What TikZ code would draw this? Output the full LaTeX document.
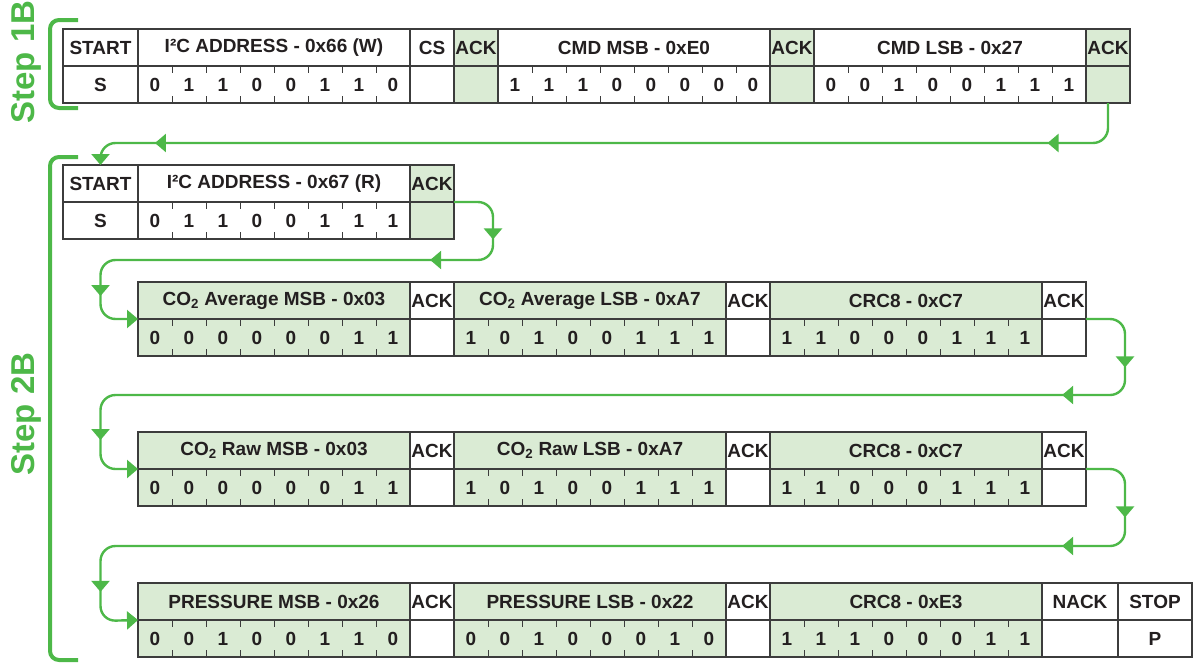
\documentclass[tikz,border=0pt]{standalone}
\usepackage{fontspec}
\setmainfont{Liberation Sans}
\usetikzlibrary{arrows.meta,positioning,decorations.markings}

\definecolor{flowgreen}{RGB}{77,184,72}
\definecolor{cellgreen}{RGB}{218,235,212}
\definecolor{cellline}{RGB}{60,60,60}
\definecolor{inktext}{RGB}{35,31,32}

% eight bit digits with the small ticks between them
\newcommand\bitcells[2]{%
  \foreach \v [count=\i] in {#2}
    \node[digit] (#1-\i) at ([xshift=\i*34pt-17pt]#1.west) {\v};
  \foreach \i in {1,...,7}{
    \draw[tick] ([xshift=\i*34pt]#1.north west) -- ++(0,7);
    \draw[tick] ([xshift=\i*34pt]#1.south west) -- ++(0,-7);}}

\begin{document}
\begin{tikzpicture}[x=1pt,y=-1pt,
  cell/.style={draw=cellline,line width=1.3pt,minimum height=37pt,inner sep=0pt,
               outer sep=0pt,text=inktext,font=\fontsize{19}{21}\selectfont\bfseries},
  startc/.style={cell,minimum width=75pt},
  bytec/.style={cell,minimum width=272pt,fill=#1}, bytec/.default=white,
  ackc/.style={cell,minimum width=44pt,fill=#1}, ackc/.default=white,
  digit/.style={inner sep=0pt,text=inktext,font=\fontsize{19}{21}\selectfont\bfseries},
  tick/.style={draw=cellline,line width=1pt},
  flow/.style={flowgreen,line width=2.4pt,rounded corners=15pt,
               -{Triangle[length=11pt,width=18pt]}},
  mids/.style={postaction={decorate,decoration={markings,
               mark=at position #1 with {\arrow{Triangle[length=11pt,width=18pt]}}}}},
  bracket/.style={draw=flowgreen,line width=4pt,rounded corners=9pt},
  steplbl/.style={text=flowgreen,font=\fontsize{33}{36}\selectfont\bfseries,rotate=90}
]
\useasboundingbox (0,0) rectangle (1194,664);

% step 1B: write command
\node[startc,anchor=north west] (r1s) at (63,29) {START};
\node[startc,below=0pt of r1s] (r1sb) {S};
\node[bytec,right=0pt of r1s] (r1a) {I²C ADDRESS - 0x66 (W)};
\node[bytec,below=0pt of r1a] (r1ab) {};
\node[ackc,right=0pt of r1a] (r1c) {CS};
\node[ackc,below=0pt of r1c] (r1cb) {};
\node[ackc=cellgreen,right=0pt of r1c] (r1k1) {ACK};
\node[ackc=cellgreen,below=0pt of r1k1] (r1k1b) {};
\node[bytec,right=0pt of r1k1] (r1m) {CMD MSB - 0xE0};
\node[bytec,below=0pt of r1m] (r1mb) {};
\node[ackc=cellgreen,right=0pt of r1m] (r1k2) {ACK};
\node[ackc=cellgreen,below=0pt of r1k2] (r1k2b) {};
\node[bytec,right=0pt of r1k2] (r1l) {CMD LSB - 0x27};
\node[bytec,below=0pt of r1l] (r1lb) {};
\node[ackc=cellgreen,right=0pt of r1l] (r1k3) {ACK};
\node[ackc=cellgreen,below=0pt of r1k3] (r1k3b) {};
\bitcells{r1ab}{0,1,1,0,0,1,1,0}
\bitcells{r1mb}{1,1,1,0,0,0,0,0}
\bitcells{r1lb}{0,0,1,0,0,1,1,1}

% step 2B: read address
\node[startc,anchor=north west] (r2s) at (63,165) {START};
\node[startc,below=0pt of r2s] (r2sb) {S};
\node[bytec,right=0pt of r2s] (r2a) {I²C ADDRESS - 0x67 (R)};
\node[bytec,below=0pt of r2a] (r2ab) {};
\node[ackc=cellgreen,right=0pt of r2a] (r2k) {ACK};
\node[ackc=cellgreen,below=0pt of r2k] (r2kb) {};
\bitcells{r2ab}{0,1,1,0,0,1,1,1}

% CO2 average
\node[bytec=cellgreen,anchor=north west] (r3a) at (138,282) {CO\textsubscript{2} Average MSB - 0x03};
\node[bytec=cellgreen,below=0pt of r3a] (r3ab) {};
\node[ackc,right=0pt of r3a] (r3k1) {ACK};
\node[ackc,below=0pt of r3k1] (r3k1b) {};
\node[bytec=cellgreen,right=0pt of r3k1] (r3b) {CO\textsubscript{2} Average LSB - 0xA7};
\node[bytec=cellgreen,below=0pt of r3b] (r3bb) {};
\node[ackc,right=0pt of r3b] (r3k2) {ACK};
\node[ackc,below=0pt of r3k2] (r3k2b) {};
\node[bytec=cellgreen,right=0pt of r3k2] (r3c) {CRC8 - 0xC7};
\node[bytec=cellgreen,below=0pt of r3c] (r3cb) {};
\node[ackc,right=0pt of r3c] (r3k3) {ACK};
\node[ackc,below=0pt of r3k3] (r3k3b) {};
\bitcells{r3ab}{0,0,0,0,0,0,1,1}
\bitcells{r3bb}{1,0,1,0,0,1,1,1}
\bitcells{r3cb}{1,1,0,0,0,1,1,1}

% CO2 raw
\node[bytec=cellgreen,anchor=north west] (r4a) at (138,432) {CO\textsubscript{2} Raw MSB - 0x03};
\node[bytec=cellgreen,below=0pt of r4a] (r4ab) {};
\node[ackc,right=0pt of r4a] (r4k1) {ACK};
\node[ackc,below=0pt of r4k1] (r4k1b) {};
\node[bytec=cellgreen,right=0pt of r4k1] (r4b) {CO\textsubscript{2} Raw LSB - 0xA7};
\node[bytec=cellgreen,below=0pt of r4b] (r4bb) {};
\node[ackc,right=0pt of r4b] (r4k2) {ACK};
\node[ackc,below=0pt of r4k2] (r4k2b) {};
\node[bytec=cellgreen,right=0pt of r4k2] (r4c) {CRC8 - 0xC7};
\node[bytec=cellgreen,below=0pt of r4c] (r4cb) {};
\node[ackc,right=0pt of r4c] (r4k3) {ACK};
\node[ackc,below=0pt of r4k3] (r4k3b) {};
\bitcells{r4ab}{0,0,0,0,0,0,1,1}
\bitcells{r4bb}{1,0,1,0,0,1,1,1}
\bitcells{r4cb}{1,1,0,0,0,1,1,1}

% pressure
\node[bytec=cellgreen,anchor=north west] (r5a) at (138,583) {PRESSURE MSB - 0x26};
\node[bytec=cellgreen,below=0pt of r5a] (r5ab) {};
\node[ackc,right=0pt of r5a] (r5k1) {ACK};
\node[ackc,below=0pt of r5k1] (r5k1b) {};
\node[bytec=cellgreen,right=0pt of r5k1] (r5b) {PRESSURE LSB - 0x22};
\node[bytec=cellgreen,below=0pt of r5b] (r5bb) {};
\node[ackc,right=0pt of r5b] (r5k2) {ACK};
\node[ackc,below=0pt of r5k2] (r5k2b) {};
\node[bytec=cellgreen,right=0pt of r5k2] (r5c) {CRC8 - 0xE3};
\node[bytec=cellgreen,below=0pt of r5c] (r5cb) {};
\node[cell,minimum width=76pt,right=0pt of r5c] (r5n) {NACK};
\node[cell,minimum width=76pt,below=0pt of r5n] (r5nb) {};
\node[cell,minimum width=74pt,right=0pt of r5n] (r5p) {STOP};
\node[cell,minimum width=74pt,below=0pt of r5p] (r5pb) {P};
\bitcells{r5ab}{0,0,1,0,0,1,1,0}
\bitcells{r5bb}{0,0,1,0,0,0,1,0}
\bitcells{r5cb}{1,1,1,0,0,0,1,1}

% flow between the rows
\draw[flow,mids=94pt,mids=-70pt] (r1k3b.south) -- ++(0,40) -| (r2s.north);
\draw[flow,mids=70pt,mids=147pt,mids=-54pt]
  (r2k.south east) -- ++(39,0) -- ++(0,58) -| ++(-392.5,59) -- (r3a.south west);
\draw[flow,mids=81pt,mids=165pt,mids=-60pt]
  (r3k3.south east) -- ++(39,0) -- ++(0,76) -| ++(-1024.5,74) -- (r4a.south west);
\draw[flow,mids=81pt,mids=166pt,mids=-60pt]
  (r4k3.south east) -- ++(39,0) -- ++(0,77) -| ++(-1024.5,75) -- (r5a.south west);

% step brackets
\draw[bracket] (78,20) -- (50,20) -- (50,108) -- (78,108);
\draw[bracket] (78,157) -- (50,157) -- (50,660) -- (78,660);
\node[steplbl] (step1) at (26,62) {Step 1B};
\node[steplbl] (step2) at (26,414) {Step 2B};
\end{tikzpicture}
\end{document}
